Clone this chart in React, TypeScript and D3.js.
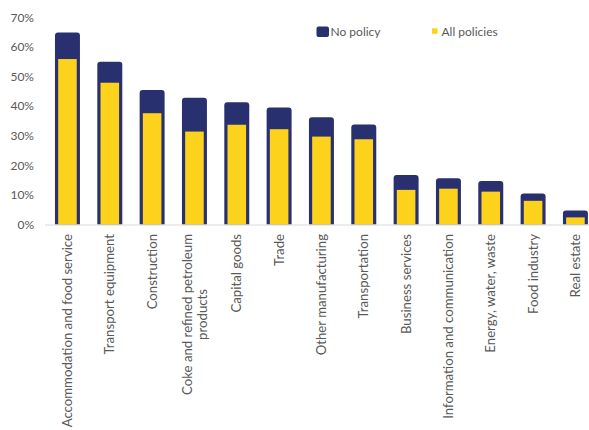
import React, { useEffect, useRef } from "react";
import * as d3 from "d3";

const categories: string[][] = [
  ["Accommodation and food service"],
  ["Transport equipment"],
  ["Construction"],
  ["Coke and refined petroleum", "products"],
  ["Capital goods"],
  ["Trade"],
  ["Other manufacturing"],
  ["Transportation"],
  ["Business services"],
  ["Information and communication"],
  ["Energy, water,  waste"],
  ["Food industry"],
  ["Real estate"],
];
const noPolicy = [64.9, 55.0, 45.4, 42.8, 41.3, 39.5, 36.2, 33.8, 16.7, 15.6, 14.7, 10.5, 4.7];
const allPolicies = [55.9, 47.9, 37.6, 31.4, 33.7, 32.2, 29.7, 28.8, 11.7, 12.1, 11.1, 8.0, 2.4];
const yTicks = [0, 10, 20, 30, 40, 50, 60, 70];
const seriesNames = ["No policy", "All policies"];

const W = 589;
const H = 430;
const NAVY = "#29306f";
const YELLOW = "#fcd21c";
const TEXT = "#595959";
const FONT = "Lato, 'Open Sans', sans-serif";
const LABEL_SIZE = 13.2;

export default function App() {
  const ref = useRef<SVGSVGElement | null>(null);

  useEffect(() => {
    const svg = d3.select(ref.current);
    svg.selectAll("*").remove();

    const y = d3.scaleLinear().domain([0, 70]).range([224.5, 17.3]);
    const x = d3
      .scaleBand<number>()
      .domain(d3.range(categories.length))
      .range([46.3, 46.3 + 42.33 * categories.length])
      .paddingInner(0.41)
      .paddingOuter(0.205);

    svg
      .append("g")
      .selectAll("text")
      .data(yTicks)
      .join("text")
      .attr("x", 34)
      .attr("y", (d) => y(d))
      .attr("dy", "0.35em")
      .attr("text-anchor", "end")
      .attr("font-family", FONT)
      .attr("font-size", 12)
      .attr("fill", TEXT)
      .text((d) => `${d}%`);

    const bw = x.bandwidth();
    const r = 3;
    svg
      .append("g")
      .selectAll("path")
      .data(noPolicy)
      .join("path")
      .attr("fill", NAVY)
      .attr("d", (d, i) => {
        const x0 = x(i)!;
        const x1 = x0 + bw;
        const top = y(d);
        const b = y(0);
        return `M${x0},${b}V${top + r}Q${x0},${top} ${x0 + r},${top}H${x1 - r}Q${x1},${top} ${x1},${top + r}V${b}Z`;
      });

    const inset = 3.2;
    svg
      .append("g")
      .selectAll("rect")
      .data(allPolicies)
      .join("rect")
      .attr("fill", YELLOW)
      .attr("x", (d, i) => x(i)! + inset)
      .attr("width", bw - 2 * inset)
      .attr("y", (d) => y(d))
      .attr("height", (d) => y(0) - y(d));

    svg
      .append("line")
      .attr("x1", 45)
      .attr("x2", W)
      .attr("y1", y(0) + 0.5)
      .attr("y2", y(0) + 0.5)
      .attr("stroke", "#d9d9d9")
      .attr("stroke-width", 1);

    const labelTop = 234;
    const lg = svg.append("g");
    categories.forEach((lines, i) => {
      const cx = x(i)! + bw / 2;
      if (lines.length === 1) {
        lg.append("text")
          .attr("transform", `translate(${cx},${labelTop}) rotate(-90)`)
          .attr("dy", "0.35em")
          .attr("text-anchor", "end")
          .attr("font-family", FONT)
          .attr("font-size", LABEL_SIZE)
          .attr("fill", TEXT)
          .text(lines[0]);
      } else {
        const t1 = lg
          .append("text")
          .attr("transform", `translate(${cx - 7.5},${labelTop}) rotate(-90)`)
          .attr("dy", "0.35em")
          .attr("text-anchor", "end")
          .attr("font-family", FONT)
          .attr("font-size", LABEL_SIZE)
          .attr("fill", TEXT)
          .text(lines[0]);
        const w1 = (t1.node() as SVGTextElement).getComputedTextLength();
        lg.append("text")
          .attr("transform", `translate(${cx + 7.5},${labelTop + w1 / 2}) rotate(-90)`)
          .attr("dy", "0.35em")
          .attr("text-anchor", "middle")
          .attr("font-family", FONT)
          .attr("font-size", LABEL_SIZE)
          .attr("fill", TEXT)
          .text(lines[1]);
      }
    });

    const leg = svg.append("g");
    leg.append("rect")
      .attr("x", 316.5)
      .attr("y", 26.5)
      .attr("width", 12.5)
      .attr("height", 10.5)
      .attr("rx", 2)
      .attr("fill", NAVY);
    leg.append("text")
      .attr("x", 330.5)
      .attr("y", 35.5)
      .attr("font-family", FONT)
      .attr("font-size", 12)
      .attr("fill", TEXT)
      .text(seriesNames[0]);
    leg.append("rect")
      .attr("x", 432)
      .attr("y", 28.3)
      .attr("width", 5.5)
      .attr("height", 5.5)
      .attr("fill", YELLOW);
    leg.append("text")
      .attr("x", 441.5)
      .attr("y", 35.5)
      .attr("font-family", FONT)
      .attr("font-size", 12)
      .attr("fill", TEXT)
      .text(seriesNames[1]);
  }, []);

  return (
    <svg
      ref={ref}
      width={W}
      height={H}
      style={{ position: "absolute", left: 0, top: 0, background: "#fff" }}
    />
  );
}
